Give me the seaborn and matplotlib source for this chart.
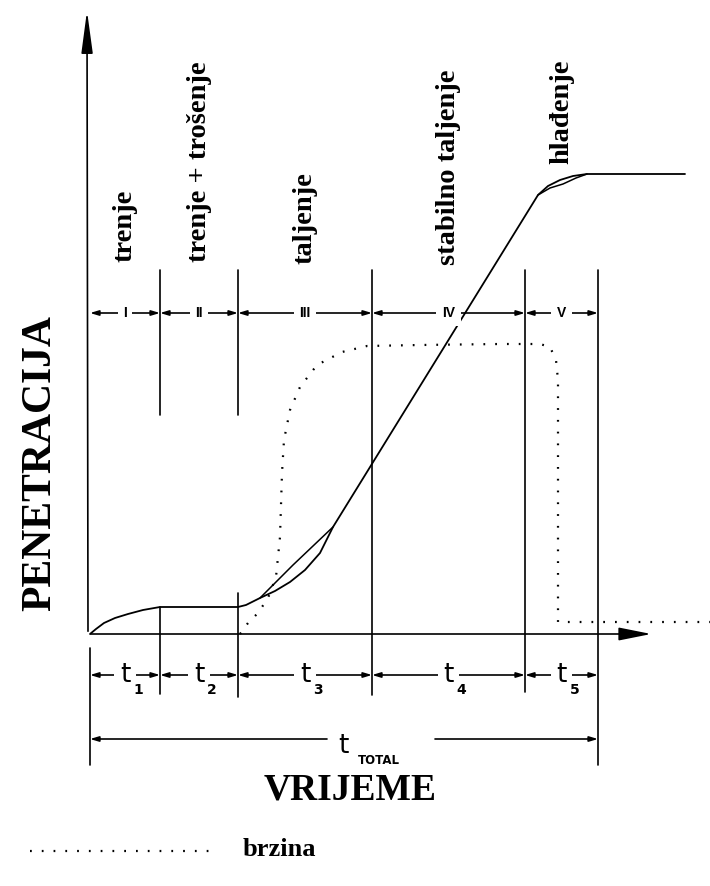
import seaborn as sns
import matplotlib.pyplot as plt
import pandas as pd

# phase boundaries along time axis (drawing units, y grows downward)
phase_edges = [90, 160, 238, 372, 525, 598]
phase_roman = ["I", "II", "III", "IV", "V"]
phase_names = ["trenje", "trenje + trošenje", "taljenje", "stabilno taljenje", "hlađenje"]
name_bottom = [262, 262, 264, 265, 164]
time_labels = ["1", "2", "3", "4", "5"]

# penetration curve
pen_x = [90, 96, 104, 115, 128, 143, 160, 238, 246, 260, 275, 290, 305, 320, 333, 538, 548, 560, 573, 587, 685]
pen_y = [634, 629, 623, 618, 614, 610, 607, 607, 605, 598, 591, 582, 570, 553, 527, 195, 186, 180, 176, 174, 174]
# hand-drawn double strokes at the bends
chord1_x = [260, 293, 333]
chord1_y = [598, 565, 527]
chord2_x = [538, 550, 563, 576, 587]
chord2_y = [195, 188, 184, 178, 174]

# speed (brzina) dotted curve
speed_x = [240, 248, 258, 268, 276, 280, 282, 284, 290, 300, 317, 342, 367, 420, 500, 540, 550, 556, 558, 558, 710]
speed_y = [634, 623, 613, 598, 577, 537, 473, 440, 410, 387, 365, 352, 346, 345, 344, 344, 347, 360, 380, 622, 622]

sns.set_style("white")
plt.rcParams["text.color"] = "black"
fig = plt.figure(figsize=(7.1, 8.86), dpi=100)
ax = fig.add_axes([0, 0, 1, 1])
ax.set_xlim(0, 710)
ax.set_ylim(886, 0)
ax.axis("off")

lw = 1.2
k = "black"

pen = pd.DataFrame({"t": pen_x, "p": pen_y})
sns.lineplot(data=pen, x="t", y="p", ax=ax, sort=False, estimator=None, color=k, lw=1.3)
sns.lineplot(x=chord1_x, y=chord1_y, ax=ax, sort=False, estimator=None, color=k, lw=1.1)
sns.lineplot(x=chord2_x, y=chord2_y, ax=ax, sort=False, estimator=None, color=k, lw=1.1)
spd = pd.DataFrame({"t": speed_x, "v": speed_y})
sns.lineplot(data=spd, x="t", y="v", ax=ax, sort=False, estimator=None, color=k,
             lw=1.6, linestyle=(0, (0.8, 4.5)))

# axes with arrows
ax.annotate("", xy=(87, 8), xytext=(88, 634),
            arrowprops=dict(arrowstyle="-|>,head_length=2.6,head_width=0.35", color=k, lw=lw))
ax.annotate("", xy=(654, 634), xytext=(88, 634),
            arrowprops=dict(arrowstyle="-|>,head_length=2.0,head_width=0.4", color=k, lw=lw))

# boundary lines
upper_bottom = [None, 415, 415, 695, 692, 765]
lower = [(648, 765), (607, 694), (593, 697), None, None, None]
for i, x in enumerate(phase_edges):
    if upper_bottom[i] is not None:
        ax.plot([x, x], [270, upper_bottom[i]], color=k, lw=lw)
    if lower[i] is not None:
        ax.plot([x, x], list(lower[i]), color=k, lw=lw)

arr = dict(arrowstyle="<|-|>,head_length=0.5,head_width=0.15", color=k, lw=lw,
           shrinkA=0, shrinkB=0)
one = dict(arrowstyle="-|>,head_length=0.5,head_width=0.15", color=k, lw=lw,
           shrinkA=0, shrinkB=0)


# dimension lines
def dim(y, x0, x1, label, fs, fam, w):
    ax.annotate("", xy=(x0, y), xytext=(x1, y), arrowprops=arr)
    ax.text((x0 + x1) / 2, y, label, ha="center", va="center", fontsize=fs,
            family=fam, fontweight=w, bbox=dict(fc="white", ec="none", pad=4))


for i in range(5):
    x0, x1 = phase_edges[i], phase_edges[i + 1]
    dim(313, x0, x1, phase_roman[i], 10, "Liberation Sans", "bold")
    dim(675, x0, x1, "t", 19, "DejaVu Sans", "normal")
    ax.text((x0 + x1) / 2 + 8, 690, time_labels[i], ha="left", va="center",
            fontsize=10, family="DejaVu Sans", fontweight="bold")
    ax.text((x0 + x1) / 2, name_bottom[i], phase_names[i], rotation=90, ha="center",
            va="bottom", fontsize=20.5, family="Liberation Serif", fontweight="bold")

# total time
ax.annotate("", xy=(90, 739), xytext=(327, 739), arrowprops=one)
ax.annotate("", xy=(598, 739), xytext=(435, 739), arrowprops=one)
ax.text(343, 746, "t", ha="center", va="center", fontsize=19, family="DejaVu Sans")
ax.text(358, 761, "TOTAL", ha="left", va="center", fontsize=8.5, family="DejaVu Sans",
        fontweight="bold")

# axis titles
ax.text(40, 463, "PENETRACIJA", rotation=90, ha="center", va="center", fontsize=30,
        family="Liberation Serif", fontweight="bold")
ax.text(350, 790, "VRIJEME", ha="center", va="center", fontsize=27,
        family="Liberation Serif", fontweight="bold")

# legend
ax.plot([30, 215], [851, 851], color=k, lw=1.6, linestyle=(0, (0.8, 4.5)))
ax.text(243, 849, "brzina", ha="left", va="center", fontsize=19,
        family="Liberation Serif", fontweight="bold")

fig.savefig("out.png", dpi=100)
